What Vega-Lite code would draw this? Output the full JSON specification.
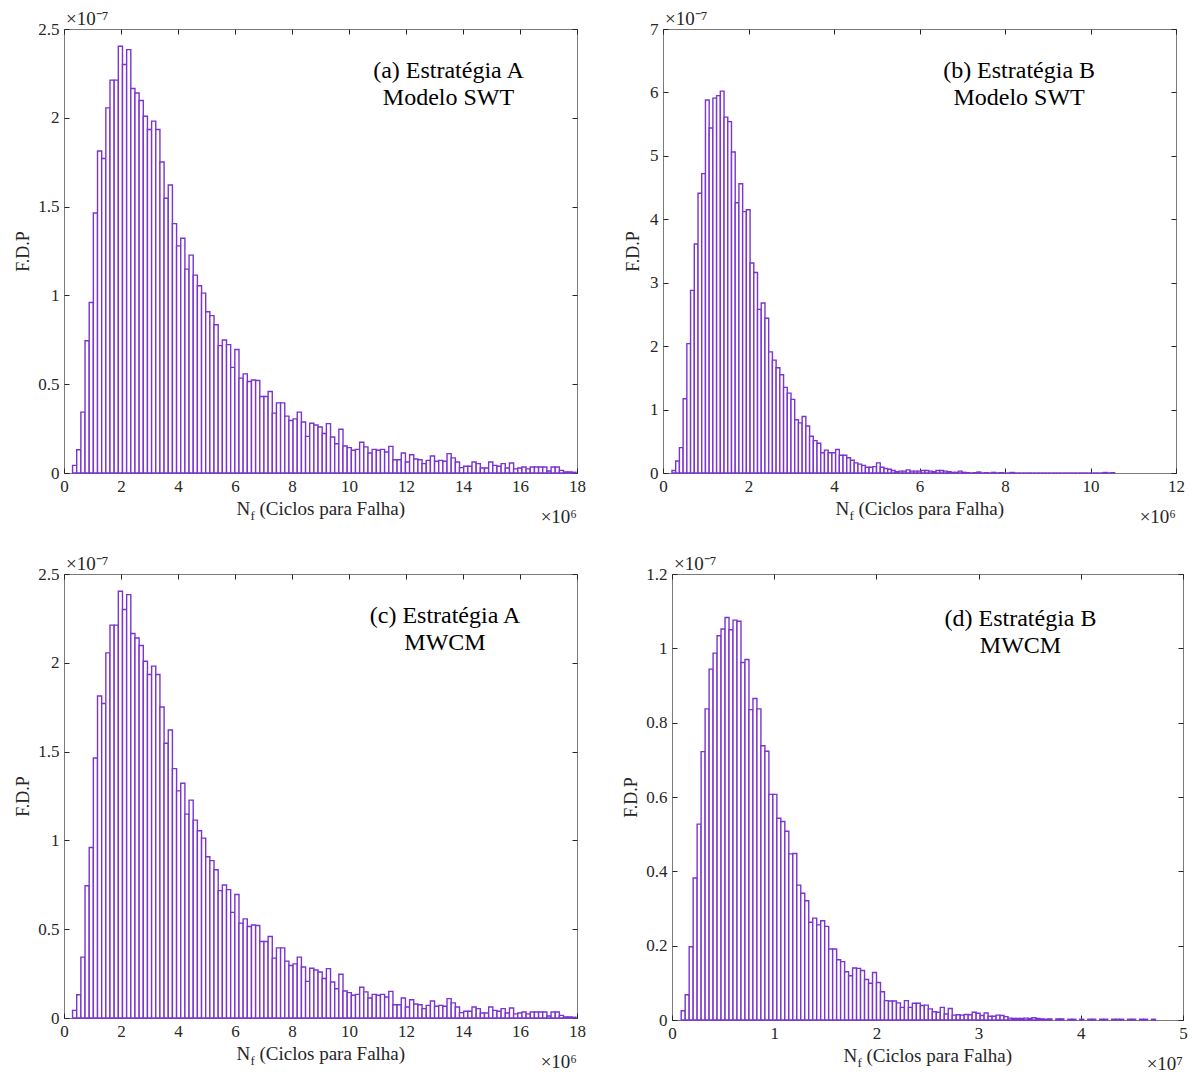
{
 "$schema": "https://vega.github.io/schema/vega-lite/v6.json",
 "background": "white",
 "padding": {"left": 13, "top": 9, "right": 5, "bottom": 5},
 "config": {
  "font": "Liberation Serif",
  "view": {"stroke": "#7a7a7a", "strokeWidth": 1},
  "axis": {"grid": false, "domain": false, "tickColor": "#262626", "tickSize": -5, "labelColor": "#262626", "labelFontSize": 17, "labelFont": "Liberation Serif", "titleFont": "Liberation Serif", "titleFontSize": 18, "titleFontWeight": "normal", "titleColor": "#262626", "labelPadding": 10, "labelFlush": false, "labelOverlap": false}
 },
 "datasets": {
  "A": [
   {"a":0.300,"b":0.446,"p":0.043},{"a":0.446,"b":0.592,"p":0.131},{"a":0.592,"b":0.738,"p":0.343},{"a":0.738,"b":0.884,"p":0.745},{"a":0.884,"b":1.030,"p":0.96},
   {"a":1.030,"b":1.176,"p":1.464},{"a":1.176,"b":1.322,"p":1.813},{"a":1.322,"b":1.468,"p":1.771},{"a":1.468,"b":1.614,"p":2.056},{"a":1.614,"b":1.760,"p":2.212},
   {"a":1.760,"b":1.906,"p":2.212},{"a":1.906,"b":2.052,"p":2.403},{"a":2.052,"b":2.198,"p":2.30},{"a":2.198,"b":2.344,"p":2.384},{"a":2.344,"b":2.490,"p":2.165},
   {"a":2.490,"b":2.636,"p":2.14},{"a":2.636,"b":2.782,"p":2.097},{"a":2.782,"b":2.928,"p":2.009},{"a":2.928,"b":3.074,"p":1.934},{"a":3.074,"b":3.220,"p":1.981},
   {"a":3.220,"b":3.366,"p":1.934},{"a":3.366,"b":3.512,"p":1.751},{"a":3.512,"b":3.658,"p":1.547},{"a":3.658,"b":3.804,"p":1.622},{"a":3.804,"b":3.950,"p":1.404},
   {"a":3.950,"b":4.096,"p":1.279},{"a":4.096,"b":4.242,"p":1.322},{"a":4.242,"b":4.388,"p":1.148},{"a":4.388,"b":4.534,"p":1.227},{"a":4.534,"b":4.680,"p":1.114},
   {"a":4.680,"b":4.826,"p":1.054},{"a":4.826,"b":4.972,"p":1.013},{"a":4.972,"b":5.118,"p":0.908},{"a":5.118,"b":5.264,"p":0.886},{"a":5.264,"b":5.410,"p":0.835},
   {"a":5.410,"b":5.556,"p":0.717},{"a":5.556,"b":5.702,"p":0.749},{"a":5.702,"b":5.848,"p":0.723},{"a":5.848,"b":5.994,"p":0.595},{"a":5.994,"b":6.140,"p":0.695},
   {"a":6.140,"b":6.286,"p":0.534},{"a":6.286,"b":6.432,"p":0.558},{"a":6.432,"b":6.578,"p":0.515},{"a":6.578,"b":6.724,"p":0.524},{"a":6.724,"b":6.870,"p":0.521},
   {"a":6.870,"b":7.016,"p":0.431},{"a":7.016,"b":7.162,"p":0.431},{"a":7.162,"b":7.308,"p":0.459},{"a":7.308,"b":7.454,"p":0.337},{"a":7.454,"b":7.600,"p":0.395},
   {"a":7.600,"b":7.746,"p":0.395},{"a":7.746,"b":7.892,"p":0.32},{"a":7.892,"b":8.038,"p":0.296},{"a":8.038,"b":8.184,"p":0.305},{"a":8.184,"b":8.330,"p":0.343},
   {"a":8.330,"b":8.476,"p":0.287},{"a":8.476,"b":8.622,"p":0.206},{"a":8.622,"b":8.768,"p":0.28},{"a":8.768,"b":8.914,"p":0.27},{"a":8.914,"b":9.060,"p":0.259},
   {"a":9.060,"b":9.206,"p":0.222},{"a":9.206,"b":9.352,"p":0.278},{"a":9.352,"b":9.498,"p":0.203},{"a":9.498,"b":9.644,"p":0.165},{"a":9.644,"b":9.790,"p":0.246},
   {"a":9.790,"b":9.936,"p":0.152},{"a":9.936,"b":10.082,"p":0.143},{"a":10.082,"b":10.228,"p":0.128},{"a":10.228,"b":10.374,"p":0.133},{"a":10.374,"b":10.520,"p":0.173},
   {"a":10.520,"b":10.666,"p":0.147},{"a":10.666,"b":10.812,"p":0.113},{"a":10.812,"b":10.958,"p":0.133},{"a":10.958,"b":11.104,"p":0.128},{"a":11.104,"b":11.250,"p":0.133},
   {"a":11.250,"b":11.396,"p":0.118},{"a":11.396,"b":11.542,"p":0.150},{"a":11.542,"b":11.688,"p":0.075},{"a":11.688,"b":11.834,"p":0.075},{"a":11.834,"b":11.980,"p":0.113},
   {"a":11.980,"b":12.126,"p":0.062},{"a":12.126,"b":12.272,"p":0.103},{"a":12.272,"b":12.418,"p":0.079},{"a":12.418,"b":12.564,"p":0.075},{"a":12.564,"b":12.710,"p":0.053},
   {"a":12.710,"b":12.856,"p":0.071},{"a":12.856,"b":13.002,"p":0.096},{"a":13.002,"b":13.148,"p":0.066},{"a":13.148,"b":13.294,"p":0.071},{"a":13.294,"b":13.440,"p":0.066},
   {"a":13.440,"b":13.586,"p":0.109},{"a":13.586,"b":13.732,"p":0.085},{"a":13.732,"b":13.878,"p":0.062},{"a":13.878,"b":14.024,"p":0.030},{"a":14.024,"b":14.170,"p":0.038},
   {"a":14.170,"b":14.316,"p":0.038},{"a":14.316,"b":14.462,"p":0.062},{"a":14.462,"b":14.608,"p":0.053},{"a":14.608,"b":14.754,"p":0.028},{"a":14.754,"b":14.900,"p":0.028},
   {"a":14.900,"b":15.046,"p":0.062},{"a":15.046,"b":15.192,"p":0.043},{"a":15.192,"b":15.338,"p":0.038},{"a":15.338,"b":15.484,"p":0.053},{"a":15.484,"b":15.630,"p":0.028},
   {"a":15.630,"b":15.776,"p":0.056},{"a":15.776,"b":15.922,"p":0.023},{"a":15.922,"b":16.068,"p":0.028},{"a":16.068,"b":16.214,"p":0.034},{"a":16.214,"b":16.360,"p":0.023},
   {"a":16.360,"b":16.506,"p":0.034},{"a":16.506,"b":16.652,"p":0.034},{"a":16.652,"b":16.798,"p":0.034},{"a":16.798,"b":16.944,"p":0.034},{"a":16.944,"b":17.090,"p":0.011},
   {"a":17.090,"b":17.236,"p":0.034},{"a":17.236,"b":17.382,"p":0.034},{"a":17.382,"b":17.528,"p":0.015},{"a":17.528,"b":17.674,"p":0.006},{"a":17.674,"b":17.820,"p":0.006},
   {"a":17.820,"b":17.966,"p":0.004}
  ],
  "B": [
   {"a":0.210,"b":0.297,"p":0.04},{"a":0.297,"b":0.384,"p":0.19},{"a":0.384,"b":0.471,"p":0.40},{"a":0.471,"b":0.558,"p":1.17},{"a":0.558,"b":0.645,"p":2.04},
   {"a":0.645,"b":0.732,"p":2.88},{"a":0.732,"b":0.819,"p":3.61},{"a":0.819,"b":0.906,"p":4.41},{"a":0.906,"b":0.993,"p":4.72},{"a":0.993,"b":1.080,"p":5.88},
   {"a":1.080,"b":1.167,"p":5.44},{"a":1.167,"b":1.254,"p":5.91},{"a":1.254,"b":1.341,"p":5.95},{"a":1.341,"b":1.428,"p":6.02},{"a":1.428,"b":1.515,"p":5.61},
   {"a":1.515,"b":1.602,"p":5.54},{"a":1.602,"b":1.689,"p":5.06},{"a":1.689,"b":1.776,"p":4.26},{"a":1.776,"b":1.863,"p":4.56},{"a":1.863,"b":1.950,"p":4.12},
   {"a":1.950,"b":2.037,"p":4.15},{"a":2.037,"b":2.124,"p":3.31},{"a":2.124,"b":2.211,"p":3.16},{"a":2.211,"b":2.298,"p":2.58},{"a":2.298,"b":2.385,"p":2.68},
   {"a":2.385,"b":2.472,"p":2.44},{"a":2.472,"b":2.559,"p":1.91},{"a":2.559,"b":2.646,"p":1.78},{"a":2.646,"b":2.733,"p":1.66},{"a":2.733,"b":2.820,"p":1.55},
   {"a":2.820,"b":2.907,"p":1.35},{"a":2.907,"b":2.994,"p":1.26},{"a":2.994,"b":3.081,"p":1.16},{"a":3.081,"b":3.168,"p":0.84},{"a":3.168,"b":3.255,"p":0.79},
   {"a":3.255,"b":3.342,"p":0.89},{"a":3.342,"b":3.429,"p":0.74},{"a":3.429,"b":3.516,"p":0.58},{"a":3.516,"b":3.603,"p":0.51},{"a":3.603,"b":3.690,"p":0.47},
   {"a":3.690,"b":3.777,"p":0.32},{"a":3.777,"b":3.864,"p":0.36},{"a":3.864,"b":3.951,"p":0.32},{"a":3.951,"b":4.038,"p":0.32},{"a":4.038,"b":4.125,"p":0.37},
   {"a":4.125,"b":4.212,"p":0.28},{"a":4.212,"b":4.299,"p":0.28},{"a":4.299,"b":4.386,"p":0.24},{"a":4.386,"b":4.473,"p":0.20},{"a":4.473,"b":4.560,"p":0.16},
   {"a":4.560,"b":4.647,"p":0.14},{"a":4.647,"b":4.734,"p":0.12},{"a":4.734,"b":4.821,"p":0.09},{"a":4.821,"b":4.908,"p":0.09},{"a":4.908,"b":4.995,"p":0.10},
   {"a":4.995,"b":5.082,"p":0.16},{"a":5.082,"b":5.169,"p":0.09},{"a":5.169,"b":5.256,"p":0.07},{"a":5.256,"b":5.343,"p":0.06},{"a":5.343,"b":5.430,"p":0.04},
   {"a":5.430,"b":5.517,"p":0.02},{"a":5.517,"b":5.604,"p":0.03},{"a":5.604,"b":5.691,"p":0.03},{"a":5.691,"b":5.778,"p":0.05},{"a":5.778,"b":5.865,"p":0.03},
   {"a":5.865,"b":5.952,"p":0.03},{"a":5.952,"b":6.039,"p":0.03},{"a":6.039,"b":6.126,"p":0.04},{"a":6.126,"b":6.213,"p":0.04},{"a":6.213,"b":6.300,"p":0.03},
   {"a":6.300,"b":6.387,"p":0.02},{"a":6.387,"b":6.474,"p":0.04},{"a":6.474,"b":6.561,"p":0.04},{"a":6.561,"b":6.648,"p":0.03},{"a":6.648,"b":6.735,"p":0.02},
   {"a":6.735,"b":6.822,"p":0.01},{"a":6.822,"b":6.909,"p":0.01},{"a":6.909,"b":6.996,"p":0.03},{"a":6.996,"b":7.083,"p":0.01},{"a":7.083,"b":7.170,"p":0.005},
   {"a":7.170,"b":7.257,"p":0},{"a":7.257,"b":7.344,"p":0.005},{"a":7.344,"b":7.431,"p":0.015},{"a":7.431,"b":7.518,"p":0},{"a":7.518,"b":7.605,"p":0.005},
   {"a":7.605,"b":7.692,"p":0},{"a":7.692,"b":7.779,"p":0.01},{"a":7.779,"b":7.866,"p":0},{"a":7.866,"b":7.953,"p":0.005},{"a":7.953,"b":8.040,"p":0},
   {"a":8.040,"b":8.127,"p":0},{"a":8.127,"b":8.214,"p":0.008},{"a":8.214,"b":8.301,"p":0},{"a":8.301,"b":8.388,"p":0},{"a":8.388,"b":8.475,"p":0},
   {"a":8.475,"b":8.562,"p":0},{"a":8.562,"b":8.649,"p":0},{"a":8.649,"b":8.736,"p":0},{"a":8.736,"b":8.823,"p":0},{"a":8.823,"b":8.910,"p":0},
   {"a":8.910,"b":8.997,"p":0},{"a":8.997,"b":9.084,"p":0},{"a":9.084,"b":9.171,"p":0},{"a":9.171,"b":9.258,"p":0},{"a":9.258,"b":9.345,"p":0},
   {"a":9.345,"b":9.432,"p":0},{"a":9.432,"b":9.519,"p":0},{"a":9.519,"b":9.606,"p":0},{"a":9.606,"b":9.693,"p":0},{"a":9.693,"b":9.780,"p":0},
   {"a":9.780,"b":9.867,"p":0},{"a":9.867,"b":9.954,"p":0},{"a":9.954,"b":10.041,"p":0},{"a":10.041,"b":10.128,"p":0},{"a":10.128,"b":10.215,"p":0},
   {"a":10.215,"b":10.302,"p":0},{"a":10.302,"b":10.389,"p":0.008},{"a":10.389,"b":10.476,"p":0},{"a":10.476,"b":10.563,"p":0.005}
  ],
  "D": [
   {"a":0.090,"b":0.129,"p":0.025},{"a":0.129,"b":0.168,"p":0.068},{"a":0.168,"b":0.207,"p":0.197},{"a":0.207,"b":0.246,"p":0.382},{"a":0.246,"b":0.285,"p":0.527},
   {"a":0.285,"b":0.324,"p":0.722},{"a":0.324,"b":0.363,"p":0.837},{"a":0.363,"b":0.402,"p":0.944},{"a":0.402,"b":0.441,"p":0.987},{"a":0.441,"b":0.480,"p":1.034},
   {"a":0.480,"b":0.519,"p":1.052},{"a":0.519,"b":0.558,"p":1.083},{"a":0.558,"b":0.597,"p":1.050},{"a":0.597,"b":0.636,"p":1.076},{"a":0.636,"b":0.675,"p":1.073},
   {"a":0.675,"b":0.714,"p":0.962},{"a":0.714,"b":0.753,"p":0.970},{"a":0.753,"b":0.792,"p":0.835},{"a":0.792,"b":0.831,"p":0.865},{"a":0.831,"b":0.870,"p":0.837},
   {"a":0.870,"b":0.909,"p":0.738},{"a":0.909,"b":0.948,"p":0.723},{"a":0.948,"b":0.987,"p":0.607},{"a":0.987,"b":1.026,"p":0.607},{"a":1.026,"b":1.065,"p":0.543},
   {"a":1.065,"b":1.104,"p":0.534},{"a":1.104,"b":1.143,"p":0.508},{"a":1.143,"b":1.182,"p":0.447},{"a":1.182,"b":1.221,"p":0.448},{"a":1.221,"b":1.260,"p":0.363},
   {"a":1.260,"b":1.299,"p":0.341},{"a":1.299,"b":1.338,"p":0.321},{"a":1.338,"b":1.377,"p":0.263},{"a":1.377,"b":1.416,"p":0.274},{"a":1.416,"b":1.455,"p":0.256},
   {"a":1.455,"b":1.494,"p":0.267},{"a":1.494,"b":1.533,"p":0.252},{"a":1.533,"b":1.572,"p":0.191},{"a":1.572,"b":1.611,"p":0.191},{"a":1.611,"b":1.650,"p":0.162},
   {"a":1.650,"b":1.689,"p":0.157},{"a":1.689,"b":1.728,"p":0.130},{"a":1.728,"b":1.767,"p":0.119},{"a":1.767,"b":1.806,"p":0.140},{"a":1.806,"b":1.845,"p":0.139},
   {"a":1.845,"b":1.884,"p":0.133},{"a":1.884,"b":1.923,"p":0.109},{"a":1.923,"b":1.962,"p":0.099},{"a":1.962,"b":2.001,"p":0.128},{"a":2.001,"b":2.040,"p":0.101},
   {"a":2.040,"b":2.079,"p":0.076},{"a":2.079,"b":2.118,"p":0.052},{"a":2.118,"b":2.157,"p":0.051},{"a":2.157,"b":2.196,"p":0.051},{"a":2.196,"b":2.235,"p":0.046},
   {"a":2.235,"b":2.274,"p":0.034},{"a":2.274,"b":2.313,"p":0.052},{"a":2.313,"b":2.352,"p":0.034},{"a":2.352,"b":2.391,"p":0.045},{"a":2.391,"b":2.430,"p":0.045},
   {"a":2.430,"b":2.469,"p":0.039},{"a":2.469,"b":2.508,"p":0.040},{"a":2.508,"b":2.547,"p":0.030},{"a":2.547,"b":2.586,"p":0.022},{"a":2.586,"b":2.625,"p":0.021},
   {"a":2.625,"b":2.664,"p":0.034},{"a":2.664,"b":2.703,"p":0.016},{"a":2.703,"b":2.742,"p":0.031},{"a":2.742,"b":2.781,"p":0.013},{"a":2.781,"b":2.820,"p":0.014},
   {"a":2.820,"b":2.859,"p":0.013},{"a":2.859,"b":2.898,"p":0.015},{"a":2.898,"b":2.937,"p":0.014},{"a":2.937,"b":2.976,"p":0.021},{"a":2.976,"b":3.015,"p":0.018},
   {"a":3.015,"b":3.054,"p":0.012},{"a":3.054,"b":3.093,"p":0.019},{"a":3.093,"b":3.132,"p":0.010},{"a":3.132,"b":3.171,"p":0.010},{"a":3.171,"b":3.210,"p":0.013},
   {"a":3.210,"b":3.249,"p":0.012},{"a":3.249,"b":3.288,"p":0.009},{"a":3.288,"b":3.327,"p":0.005},{"a":3.327,"b":3.366,"p":0.004},{"a":3.366,"b":3.405,"p":0.004},
   {"a":3.405,"b":3.444,"p":0.004},{"a":3.444,"b":3.483,"p":0.005},{"a":3.483,"b":3.522,"p":0.004},{"a":3.522,"b":3.561,"p":0.006},{"a":3.561,"b":3.600,"p":0.004},
   {"a":3.600,"b":3.639,"p":0.003},{"a":3.639,"b":3.678,"p":0.002},{"a":3.678,"b":3.717,"p":0.003},{"a":3.756,"b":3.795,"p":0.003},
   {"a":3.795,"b":3.834,"p":0.003},{"a":3.873,"b":3.912,"p":0.002},{"a":3.912,"b":3.951,"p":0.002},
   {"a":3.990,"b":4.029,"p":0.002},{"a":4.068,"b":4.107,"p":0.002},{"a":4.107,"b":4.146,"p":0.002},
   {"a":4.185,"b":4.224,"p":0.002},{"a":4.224,"b":4.263,"p":0.002},{"a":4.302,"b":4.341,"p":0.002},
   {"a":4.341,"b":4.380,"p":0.002},{"a":4.380,"b":4.419,"p":0.002},{"a":4.458,"b":4.497,"p":0.002},{"a":4.497,"b":4.536,"p":0.002},
   {"a":4.575,"b":4.614,"p":0.002},{"a":4.614,"b":4.653,"p":0.002},{"a":4.692,"b":4.731,"p":0.002}
  ],
  "one": [{}]
 },
 "spacing": 26,
 "vconcat": [
  {"hconcat": [
   {"width": 513, "height": 444,
    "layer": [
     {"data": {"name": "A"},
      "mark": {"type": "bar", "fill": "white", "stroke": "#7A35D0", "strokeWidth": 1.4},
      "encoding": {
       "x": {"field": "a", "type": "quantitative", "scale": {"domain": [0, 18], "nice": false, "zero": false}, "axis": {"values": [0,2,4,6,8,10,12,14,16,18], "title": null}},
       "x2": {"field": "b"},
       "y": {"field": "p", "type": "quantitative", "scale": {"domain": [0, 2.5], "nice": false}, "axis": {"values": [0,0.5,1,1.5,2,2.5], "format": "~g", "title": "F.D.P", "titleAngle": -90, "titleX": -36, "titleY": 222, "titleAlign": "center", "titleBaseline": "alphabetic"}},
       "y2": {"datum": 0}
      }},
     {"data": {"name": "one"},
      "mark": {"type": "text", "fontSize": 24, "lineHeight": 27, "align": "center", "baseline": "alphabetic", "color": "black"},
      "encoding": {
       "x": {"datum": 13.49, "type": "quantitative", "axis": {"orient": "top", "values": [0,2,4,6,8,10,12,14,16,18], "labels": false, "title": null}},
       "y": {"datum": 2.224, "type": "quantitative", "axis": {"orient": "right", "values": [0,0.5,1,1.5,2,2.5], "labels": false, "title": null}},
       "text": {"value": ["(a) Estratégia A", "Modelo SWT"]}
      }},
     {"data": {"name": "one"}, "mark": {"type": "text", "fontSize": 19, "align": "left", "baseline": "alphabetic", "dx": 2, "dy": -4, "color": "#262626"},
      "encoding": {"x": {"datum": 0, "type": "quantitative", "axis": null}, "y": {"datum": 2.5, "type": "quantitative", "axis": null}, "text": {"value": "×10⁻⁷"}}},
     {"data": {"name": "one"}, "mark": {"type": "text", "fontSize": 19, "align": "right", "baseline": "alphabetic", "dy": 50, "color": "#262626"},
      "encoding": {"x": {"datum": 18, "type": "quantitative", "axis": null}, "y": {"datum": 0, "type": "quantitative", "axis": null}, "text": {"value": "×10⁶"}}},
     {"data": {"name": "one"}, "mark": {"type": "text", "fontSize": 19, "align": "left", "baseline": "alphabetic", "dx": -84, "dy": 42, "color": "#262626"},
      "encoding": {"x": {"datum": 9, "type": "quantitative", "axis": null}, "y": {"datum": 0, "type": "quantitative", "axis": null}, "text": {"value": "N"}}},
     {"data": {"name": "one"}, "mark": {"type": "text", "fontSize": 13, "align": "left", "baseline": "alphabetic", "dx": -70, "dy": 47, "color": "#262626"},
      "encoding": {"x": {"datum": 9, "type": "quantitative", "axis": null}, "y": {"datum": 0, "type": "quantitative", "axis": null}, "text": {"value": "f"}}},
     {"data": {"name": "one"}, "mark": {"type": "text", "fontSize": 19, "align": "left", "baseline": "alphabetic", "dx": -61, "dy": 42, "color": "#262626"},
      "encoding": {"x": {"datum": 9, "type": "quantitative", "axis": null}, "y": {"datum": 0, "type": "quantitative", "axis": null}, "text": {"value": "(Ciclos para Falha)"}}}
    ],
    "resolve": {"axis": {"x": "independent", "y": "independent"}}
   },
   {"width": 513, "height": 444,
    "layer": [
     {"data": {"name": "B"},
      "mark": {"type": "bar", "fill": "white", "stroke": "#7A35D0", "strokeWidth": 1.4},
      "encoding": {
       "x": {"field": "a", "type": "quantitative", "scale": {"domain": [0, 12], "nice": false, "zero": false}, "axis": {"values": [0,2,4,6,8,10,12], "title": null}},
       "x2": {"field": "b"},
       "y": {"field": "p", "type": "quantitative", "scale": {"domain": [0, 7], "nice": false}, "axis": {"values": [0,1,2,3,4,5,6,7], "format": "~g", "title": "F.D.P", "titleAngle": -90, "titleX": -25, "titleY": 222, "titleAlign": "center", "titleBaseline": "alphabetic"}},
       "y2": {"datum": 0}
      }},
     {"data": {"name": "one"},
      "mark": {"type": "text", "fontSize": 24, "lineHeight": 27, "align": "center", "baseline": "alphabetic", "color": "black"},
      "encoding": {
       "x": {"datum": 8.33, "type": "quantitative", "axis": {"orient": "top", "values": [0,2,4,6,8,10,12], "labels": false, "title": null}},
       "y": {"datum": 6.23, "type": "quantitative", "axis": {"orient": "right", "values": [0,1,2,3,4,5,6,7], "labels": false, "title": null}},
       "text": {"value": ["(b) Estratégia B", "Modelo SWT"]}
      }},
     {"data": {"name": "one"}, "mark": {"type": "text", "fontSize": 19, "align": "left", "baseline": "alphabetic", "dx": 2, "dy": -4, "color": "#262626"},
      "encoding": {"x": {"datum": 0, "type": "quantitative", "axis": null}, "y": {"datum": 7, "type": "quantitative", "axis": null}, "text": {"value": "×10⁻⁷"}}},
     {"data": {"name": "one"}, "mark": {"type": "text", "fontSize": 19, "align": "right", "baseline": "alphabetic", "dy": 50, "color": "#262626"},
      "encoding": {"x": {"datum": 12, "type": "quantitative", "axis": null}, "y": {"datum": 0, "type": "quantitative", "axis": null}, "text": {"value": "×10⁶"}}},
     {"data": {"name": "one"}, "mark": {"type": "text", "fontSize": 19, "align": "left", "baseline": "alphabetic", "dx": -84, "dy": 42, "color": "#262626"},
      "encoding": {"x": {"datum": 6, "type": "quantitative", "axis": null}, "y": {"datum": 0, "type": "quantitative", "axis": null}, "text": {"value": "N"}}},
     {"data": {"name": "one"}, "mark": {"type": "text", "fontSize": 13, "align": "left", "baseline": "alphabetic", "dx": -70, "dy": 47, "color": "#262626"},
      "encoding": {"x": {"datum": 6, "type": "quantitative", "axis": null}, "y": {"datum": 0, "type": "quantitative", "axis": null}, "text": {"value": "f"}}},
     {"data": {"name": "one"}, "mark": {"type": "text", "fontSize": 19, "align": "left", "baseline": "alphabetic", "dx": -61, "dy": 42, "color": "#262626"},
      "encoding": {"x": {"datum": 6, "type": "quantitative", "axis": null}, "y": {"datum": 0, "type": "quantitative", "axis": null}, "text": {"value": "(Ciclos para Falha)"}}}
    ],
    "resolve": {"axis": {"x": "independent", "y": "independent"}}
   }
  ], "spacing": 86, "bounds": "flush"},
  {"hconcat": [
   {"width": 513, "height": 444,
    "layer": [
     {"data": {"name": "A"},
      "mark": {"type": "bar", "fill": "white", "stroke": "#7A35D0", "strokeWidth": 1.4},
      "encoding": {
       "x": {"field": "a", "type": "quantitative", "scale": {"domain": [0, 18], "nice": false, "zero": false}, "axis": {"values": [0,2,4,6,8,10,12,14,16,18], "title": null}},
       "x2": {"field": "b"},
       "y": {"field": "p", "type": "quantitative", "scale": {"domain": [0, 2.5], "nice": false}, "axis": {"values": [0,0.5,1,1.5,2,2.5], "format": "~g", "title": "F.D.P", "titleAngle": -90, "titleX": -36, "titleY": 222, "titleAlign": "center", "titleBaseline": "alphabetic"}},
       "y2": {"datum": 0}
      }},
     {"data": {"name": "one"},
      "mark": {"type": "text", "fontSize": 24, "lineHeight": 27, "align": "center", "baseline": "alphabetic", "color": "black"},
      "encoding": {
       "x": {"datum": 13.37, "type": "quantitative", "axis": {"orient": "top", "values": [0,2,4,6,8,10,12,14,16,18], "labels": false, "title": null}},
       "y": {"datum": 2.224, "type": "quantitative", "axis": {"orient": "right", "values": [0,0.5,1,1.5,2,2.5], "labels": false, "title": null}},
       "text": {"value": ["(c) Estratégia A", "MWCM"]}
      }},
     {"data": {"name": "one"}, "mark": {"type": "text", "fontSize": 19, "align": "left", "baseline": "alphabetic", "dx": 2, "dy": -4, "color": "#262626"},
      "encoding": {"x": {"datum": 0, "type": "quantitative", "axis": null}, "y": {"datum": 2.5, "type": "quantitative", "axis": null}, "text": {"value": "×10⁻⁷"}}},
     {"data": {"name": "one"}, "mark": {"type": "text", "fontSize": 19, "align": "right", "baseline": "alphabetic", "dy": 50, "color": "#262626"},
      "encoding": {"x": {"datum": 18, "type": "quantitative", "axis": null}, "y": {"datum": 0, "type": "quantitative", "axis": null}, "text": {"value": "×10⁶"}}},
     {"data": {"name": "one"}, "mark": {"type": "text", "fontSize": 19, "align": "left", "baseline": "alphabetic", "dx": -84, "dy": 42, "color": "#262626"},
      "encoding": {"x": {"datum": 9, "type": "quantitative", "axis": null}, "y": {"datum": 0, "type": "quantitative", "axis": null}, "text": {"value": "N"}}},
     {"data": {"name": "one"}, "mark": {"type": "text", "fontSize": 13, "align": "left", "baseline": "alphabetic", "dx": -70, "dy": 47, "color": "#262626"},
      "encoding": {"x": {"datum": 9, "type": "quantitative", "axis": null}, "y": {"datum": 0, "type": "quantitative", "axis": null}, "text": {"value": "f"}}},
     {"data": {"name": "one"}, "mark": {"type": "text", "fontSize": 19, "align": "left", "baseline": "alphabetic", "dx": -61, "dy": 42, "color": "#262626"},
      "encoding": {"x": {"datum": 9, "type": "quantitative", "axis": null}, "y": {"datum": 0, "type": "quantitative", "axis": null}, "text": {"value": "(Ciclos para Falha)"}}}
    ],
    "resolve": {"axis": {"x": "independent", "y": "independent"}}
   },
   {"width": 511, "height": 446,
    "layer": [
     {"data": {"name": "D"},
      "mark": {"type": "bar", "fill": "white", "stroke": "#7A35D0", "strokeWidth": 1.4},
      "encoding": {
       "x": {"field": "a", "type": "quantitative", "scale": {"domain": [0, 5], "nice": false, "zero": false}, "axis": {"values": [0,1,2,3,4,5], "title": null}},
       "x2": {"field": "b"},
       "y": {"field": "p", "type": "quantitative", "scale": {"domain": [0, 1.2], "nice": false}, "axis": {"values": [0,0.2,0.4,0.6,0.8,1,1.2], "format": "~g", "title": "F.D.P", "titleAngle": -90, "titleX": -36, "titleY": 223, "titleAlign": "center", "titleBaseline": "alphabetic"}},
       "y2": {"datum": 0}
      }},
     {"data": {"name": "one"},
      "mark": {"type": "text", "fontSize": 24, "lineHeight": 27, "align": "center", "baseline": "alphabetic", "color": "black"},
      "encoding": {
       "x": {"datum": 3.41, "type": "quantitative", "axis": {"orient": "top", "values": [0,1,2,3,4,5], "labels": false, "title": null}},
       "y": {"datum": 1.06, "type": "quantitative", "axis": {"orient": "right", "values": [0,0.2,0.4,0.6,0.8,1,1.2], "labels": false, "title": null}},
       "text": {"value": ["(d) Estratégia B", "MWCM"]}
      }},
     {"data": {"name": "one"}, "mark": {"type": "text", "fontSize": 19, "align": "left", "baseline": "alphabetic", "dx": 2, "dy": -4, "color": "#262626"},
      "encoding": {"x": {"datum": 0, "type": "quantitative", "axis": null}, "y": {"datum": 1.2, "type": "quantitative", "axis": null}, "text": {"value": "×10⁻⁷"}}},
     {"data": {"name": "one"}, "mark": {"type": "text", "fontSize": 19, "align": "right", "baseline": "alphabetic", "dy": 50, "color": "#262626"},
      "encoding": {"x": {"datum": 5, "type": "quantitative", "axis": null}, "y": {"datum": 0, "type": "quantitative", "axis": null}, "text": {"value": "×10⁷"}}},
     {"data": {"name": "one"}, "mark": {"type": "text", "fontSize": 19, "align": "left", "baseline": "alphabetic", "dx": -84, "dy": 42, "color": "#262626"},
      "encoding": {"x": {"datum": 2.5, "type": "quantitative", "axis": null}, "y": {"datum": 0, "type": "quantitative", "axis": null}, "text": {"value": "N"}}},
     {"data": {"name": "one"}, "mark": {"type": "text", "fontSize": 13, "align": "left", "baseline": "alphabetic", "dx": -70, "dy": 47, "color": "#262626"},
      "encoding": {"x": {"datum": 2.5, "type": "quantitative", "axis": null}, "y": {"datum": 0, "type": "quantitative", "axis": null}, "text": {"value": "f"}}},
     {"data": {"name": "one"}, "mark": {"type": "text", "fontSize": 19, "align": "left", "baseline": "alphabetic", "dx": -61, "dy": 42, "color": "#262626"},
      "encoding": {"x": {"datum": 2.5, "type": "quantitative", "axis": null}, "y": {"datum": 0, "type": "quantitative", "axis": null}, "text": {"value": "(Ciclos para Falha)"}}}
    ],
    "resolve": {"axis": {"x": "independent", "y": "independent"}}
   }
  ], "spacing": 95, "bounds": "flush"}
 ]
}
